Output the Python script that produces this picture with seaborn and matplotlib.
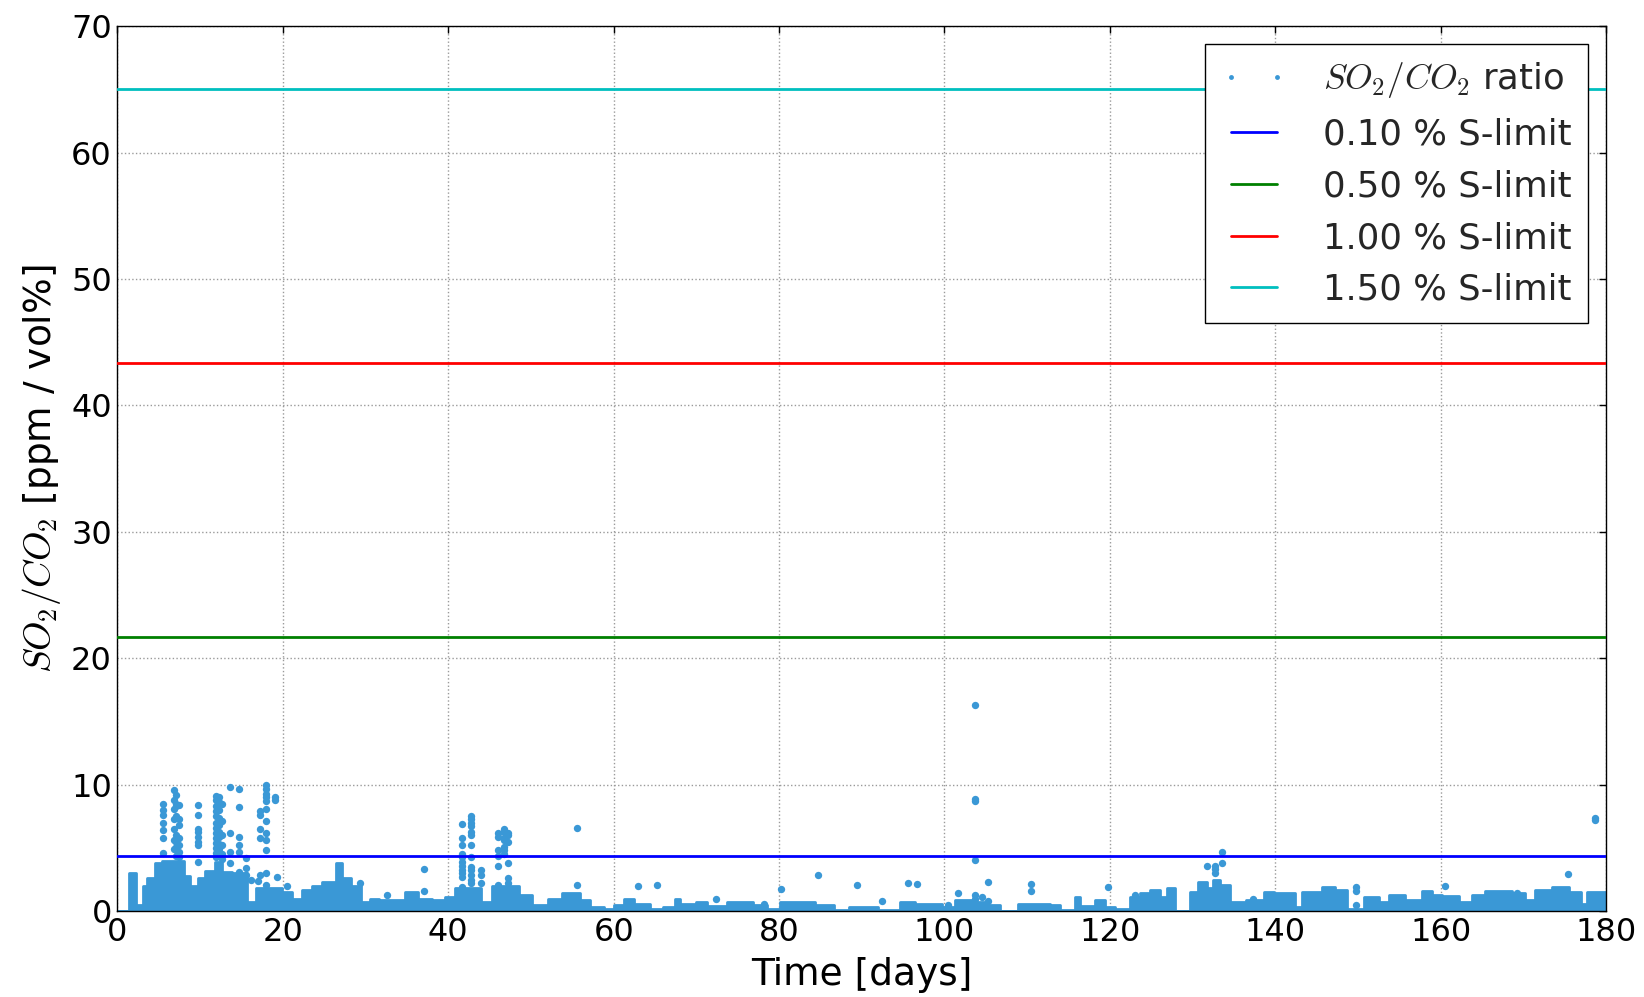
import numpy as np
import pandas as pd
import matplotlib
matplotlib.use("Agg")
import matplotlib.pyplot as plt
from matplotlib.lines import Line2D
import seaborn as sns

# ---------------- data ----------------
# dense base band of SO2/CO2 measurements: value reached from band_day[i] until band_day[i+1]
band_day = [0.0, 1.4, 2.2, 3.1, 3.6, 4.6, 5.4, 8.0, 8.8, 9.8, 10.6, 11.8, 12.7, 13.9, 15.7,
            16.7, 19.9, 21.1, 22.3, 23.5, 24.7, 26.4, 27.2, 28.3, 29.5, 30.6, 31.6, 34.8,
            36.4, 38.0, 39.6, 40.8, 44.0, 45.3, 48.5, 50.1, 52.1, 53.7, 55.9, 57.1, 58.8,
            60.0, 61.2, 62.4, 64.4, 66.0, 67.4, 68.0, 70.0, 71.3, 73.7, 76.9, 78.5, 80.1,
            84.4, 86.6, 88.4, 92.0, 94.6, 96.4, 99.7, 101.3, 103.3, 105.3, 106.7, 108.9,
            112.8, 114.0, 115.8, 116.4, 118.2, 119.4, 120.6, 122.4, 123.6, 124.9, 126.1,
            126.9, 127.9, 129.7, 130.7, 131.7, 132.5, 133.3, 134.5, 136.5, 138.6, 139.8,
            142.4, 143.2, 145.6, 147.2, 148.7, 150.7, 152.5, 153.7, 155.7, 157.7, 158.9,
            160.1, 162.2, 163.8, 165.4, 168.6, 170.2, 171.4, 173.4, 175.5, 176.9, 177.7, 180.0]
band_top = [0.0, 3.0, 0.5, 2.0, 2.6, 3.8, 4.0, 2.8, 2.0, 2.6, 3.2, 3.9, 3.1, 3.0, 0.7,
            1.8, 1.5, 1.0, 1.7, 2.0, 2.3, 3.8, 2.6, 2.0, 0.7, 1.0, 0.9, 1.5,
            1.0, 0.9, 1.1, 1.8, 0.7, 2.0, 1.3, 0.5, 1.0, 1.4, 0.9, 0.3, 0.15,
            0.5, 1.0, 0.6, 0.2, 0.35, 1.0, 0.6, 0.75, 0.4, 0.75, 0.5, 0.2, 0.75,
            0.5, 0.1, 0.35, 0.1, 0.75, 0.6, 0.3, 0.9, 0.75, 0.5, 0.05, 0.6,
            0.5, 0.1, 1.1, 0.4, 0.9, 0.3, 0.2, 1.15, 1.4, 1.7, 1.15,
            1.8, 0.0, 1.55, 2.3, 1.8, 2.45, 2.05, 0.75, 0.9, 1.55, 1.4,
            0.35, 1.55, 1.95, 1.7, 0.2, 1.15, 0.75, 1.3, 0.9, 1.6, 1.3,
            1.2, 0.75, 1.3, 1.6, 1.4, 0.9, 1.7, 1.95, 1.55, 0.6, 1.55, 1.55]

# scattered individual measurements standing out of the band (day, values)
col_day = [5.5, 6.8, 7.1, 7.4, 9.8, 11.9, 12.3, 12.6, 13.6, 14.7, 15.5, 16.2, 17.0, 17.2,
           18.0, 19.0, 19.3, 20.5, 29.3, 32.6, 37.1, 41.7, 42.8, 44.0, 46.0, 46.7, 47.2,
           55.6, 63.0, 65.3, 72.4, 78.2, 80.2, 84.7, 89.4, 92.5, 95.6, 96.7, 100.4, 101.6,
           103.7, 104.5, 105.3, 110.5, 119.8, 123.0, 131.7, 132.7, 133.6, 137.3, 149.7,
           160.5, 169.2, 175.4, 178.7]
col_vals = [
    [8.5, 8.0, 7.6, 7.0, 6.4, 5.75, 4.6],
    [9.6, 8.8, 8.1, 7.3, 6.5, 5.6, 4.9],
    [9.2, 8.5, 8.3, 7.5, 6.0, 5.5, 5.1, 4.8, 4.4],
    [8.4, 7.3, 6.8, 5.75, 5.2, 4.7, 4.3],
    [8.4, 7.6, 6.5, 6.3, 5.9, 5.5, 5.2, 3.9],
    [9.1, 8.8, 8.3, 7.9, 7.5, 7.0, 6.6, 6.2, 5.8, 5.4, 5.0, 4.6, 4.3],
    [9.0, 8.6, 8.0, 7.4, 6.8, 6.3, 5.9, 5.3, 4.9, 4.5],
    [8.5, 7.1, 6.0, 5.2, 4.5, 4.1],
    [9.85, 6.15, 4.7, 3.8],
    [9.7, 8.26, 5.9, 5.2, 4.7, 3.1],
    [4.2, 3.4, 2.85],
    [2.5],
    [2.4],
    [7.9, 7.6, 6.5, 5.75, 2.85],
    [10.0, 9.7, 9.3, 9.0, 8.7, 8.1, 7.1, 6.15, 5.6, 4.8, 3.0, 2.05],
    [9.05, 8.8],
    [2.7],
    [2.0],
    [2.2],
    [1.27],
    [3.3, 1.6],
    [6.9, 5.75, 5.2, 4.55, 4.3, 3.9, 3.6, 3.25, 3.0, 2.7, 1.9],
    [7.5, 7.3, 7.0, 6.7, 6.3, 6.0, 5.2, 4.3, 3.5, 3.25, 2.85, 2.45, 2.2],
    [3.25, 2.85, 2.2],
    [6.15, 5.9, 4.8, 4.4, 3.6, 2.05],
    [6.5, 6.3, 5.75, 5.6, 5.1, 4.8, 4.55],
    [6.2, 6.0, 5.5, 3.8, 2.6, 2.2],
    [6.55, 2.05],
    [2.0],
    [2.1],
    [0.96],
    [0.6],
    [1.75],
    [2.86],
    [2.07],
    [0.83],
    [2.2],
    [2.13],
    [0.5],
    [1.4],
    [16.3, 8.9, 8.7, 4.05, 1.3, 1.0],
    [1.15],
    [2.28, 0.83],
    [2.13, 1.62],
    [1.9],
    [1.3],
    [3.58],
    [3.6, 3.3, 3.0],
    [4.66, 3.84],
    [1.0],
    [1.95, 1.62, 0.5],
    [2.0],
    [1.4],
    [2.94],
    [7.4, 7.2],
]

limit_pct = [0.10, 0.50, 1.00, 1.50]
limit_val = [4.33, 21.67, 43.33, 65.0]
limit_col = ["#0000ff", "#008000", "#ff0000", "#00bfbf"]

x_ticks = [0, 20, 40, 60, 80, 100, 120, 140, 160, 180]
y_ticks = [0, 10, 20, 30, 40, 50, 60, 70]

dot_color = "#3a98d6"

# ---------------- figure ----------------
sns.set_theme(style="white")
plt.rcParams["font.family"] = ["DejaVu Sans"]
plt.rcParams["mathtext.fontset"] = "cm"
plt.rcParams["xtick.direction"] = "in"
plt.rcParams["ytick.direction"] = "in"

fig = plt.figure(figsize=(16.44, 9.97), dpi=100)
ax = fig.add_axes([0.0714, 0.0861, 0.9056, 0.8876])

# dense band of measurements
ax.fill_between(band_day, 0, band_top, step="post", facecolor=dot_color,
                edgecolor=dot_color, linewidth=2.0, zorder=2)

# individual scattered measurements
rows = []
for d, vals in zip(col_day, col_vals):
    for v in vals:
        rows.append((d, v))
pts = pd.DataFrame(rows, columns=["day", "ratio"])
sns.scatterplot(data=pts, x="day", y="ratio", ax=ax, color=dot_color, s=28,
                linewidth=0, zorder=3, legend=False)

for p, v, c in zip(limit_pct, limit_val, limit_col):
    ax.axhline(v, color=c, linewidth=2.0, label=f"{p:.2f} % S-limit", zorder=4)

ax.set_xlim(0, 180)
ax.set_ylim(0, 70)
ax.set_xticks(x_ticks)
ax.set_yticks(y_ticks)
ax.tick_params(axis="both", which="major", labelsize=23, length=5, width=1,
               top=True, right=True, color="black", labelcolor="black", pad=4)
ax.grid(True, color="#9a9a9a", linestyle=":", linewidth=1.0)
ax.set_axisbelow(True)
for sp in ax.spines.values():
    sp.set_color("black")
    sp.set_linewidth(1.0)

ax.set_xlabel("Time [days]", fontsize=27, color="black", labelpad=7)
ax.set_ylabel(r"$SO_2/CO_2$ [ppm / vol%]", fontsize=27, color="black", labelpad=6)

handles, labels = ax.get_legend_handles_labels()
scat_handle = Line2D([0], [0], linestyle="none", marker="o", markersize=3.5,
                     markerfacecolor=dot_color, markeredgewidth=0)
line_handles = [h for h, l in zip(handles, labels) if "S-limit" in l]
line_labels = [l for l in labels if "S-limit" in l]
leg = ax.legend([scat_handle] + line_handles, [r"$SO_2/CO_2$ ratio"] + line_labels,
                loc="upper right", bbox_to_anchor=(0.9877, 0.9799), borderaxespad=0,
                fontsize=25.5, numpoints=2, handlelength=1.9, handletextpad=1.0,
                labelspacing=0.5, borderpad=0.45, fancybox=False, framealpha=1,
                edgecolor="black")
leg.get_frame().set_linewidth(1.0)

fig.savefig("out.png", dpi=100)
